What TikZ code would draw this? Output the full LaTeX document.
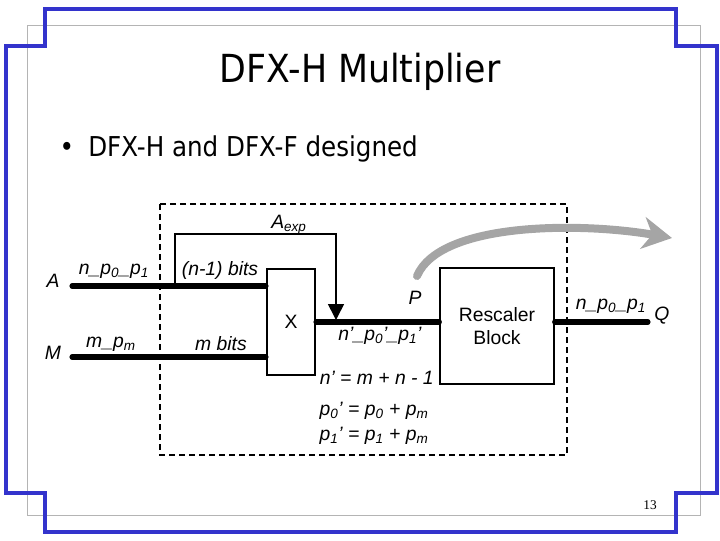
\documentclass[tikz,border=0pt]{standalone}
\usepackage{fontspec}
\setmainfont{Liberation Sans}
\newfontfamily\tahoma{DejaVu Sans Condensed}
\newfontfamily\pagefont{Liberation Serif}
\usetikzlibrary{arrows.meta}
\definecolor{frameblue}{RGB}{51,51,204}
\definecolor{framegray}{RGB}{180,180,180}
\definecolor{arrowgray}{RGB}{165,165,165}
\tikzset{
  frame/.style={draw=frameblue, line width=3pt},
  thinframe/.style={draw=framegray, line width=0.6pt},
  bus/.style={line width=3.8pt, line cap=round},
  wire/.style={line width=1.2pt},
  blockbox/.style={draw, line width=1.5pt, font=\fontsize{14.5}{17}\selectfont, align=center},
  lab/.style={font=\itshape\fontsize{14.5}{17}\selectfont, inner sep=0pt},
  dashbox/.style={draw, line width=1.4pt, dash pattern=on 4.5pt off 3pt}
}
\begin{document}
\begin{tikzpicture}[x=0.75pt,y=-0.75pt]
\useasboundingbox (0,0) rectangle (720,540);
% slide frame
\draw[thinframe] (27,25) rectangle (700,515);
\draw[frame] (45,9) -- (676,9) -- (676,46) -- (717,46) -- (717,493) -- (676,493) -- (676,532) -- (45,532) -- (45,493) -- (6,493) -- (6,46) -- (45,46) -- cycle;
% title and bullet
\node[font=\tahoma\fontsize{29}{34}\selectfont] (title) at (360,72) {DFX-H Multiplier};
\node[font=\tahoma\fontsize{20.5}{24}\selectfont] (bul) at (67,149) {\textbullet};
\node[font=\tahoma\fontsize{20.5}{24}\selectfont, anchor=west, inner sep=0pt] (btext) at (88,149) {DFX-H and DFX-F designed};
\node[font=\pagefont\fontsize{10}{12}\selectfont] (pg) at (650,505) {13};
% dashed boundary
\draw[dashbox] (160,204) rectangle (567,455);
% blocks
\node[blockbox, minimum width=36pt, minimum height=79.5pt] (X) at (291,322) {X};
\node[blockbox, minimum width=85pt, minimum height=87pt] (R) at (497,326) {Rescaler\\Block};
% terminals
\node[lab] (A) at (53,281) {A};
\node[lab] (M) at (53,353) {M};
\node[lab] (Q) at (662,316) {Q};
\coordinate (Ain) at (72,286);
\coordinate (Min) at (72,357);
\coordinate (Qout) at (648,322);
\coordinate (tap) at (175,286);
% buses
\draw[bus] (Ain) -- (Ain -| X.west);
\draw[bus] (Min) -- (Min -| X.west);
\draw[bus] (X.east |- 0,322) -- (R.west |- 0,322);
\draw[bus] (R.east |- 0,322) -- (Qout);
% exponent path
\draw[wire, -{Triangle[length=12pt,width=12pt]}] (tap) -- (175,234) -- (336,234) -- (336,320);
% gray curved arrow
\draw[arrowgray, line width=6pt, line cap=round, -{Stealth[length=22pt,width=24pt,inset=7pt]}]
  (417,276) .. controls (440,222) and (580,222) .. (672,238);
% labels
\node[lab] (l1) at (114,271) {n\_p\textsubscript{0}\_p\textsubscript{1}};
\node[lab] (l2) at (111,344) {m\_p\textsubscript{m}};
\node[lab] (l3) at (220,270) {(n-1) bits};
\node[lab] (l4) at (221,344) {m bits};
\node[lab] (l5) at (289,225) {A\textsubscript{exp}};
\node[lab] (l6) at (415,298) {P};
\node[lab] (l7) at (380,336) {n'\_p\textsubscript{0}'\_p\textsubscript{1}'};
\node[lab, anchor=east] (l8) at (434,378) {n' = m + n - 1};
\node[lab] (l9) at (374,411) {p\textsubscript{0}' = p\textsubscript{0} + p\textsubscript{m}};
\node[lab] (l10) at (374,436) {p\textsubscript{1}' = p\textsubscript{1} + p\textsubscript{m}};
\node[lab] (l11) at (611,306) {n\_p\textsubscript{0}\_p\textsubscript{1}};
\end{tikzpicture}
\end{document}
